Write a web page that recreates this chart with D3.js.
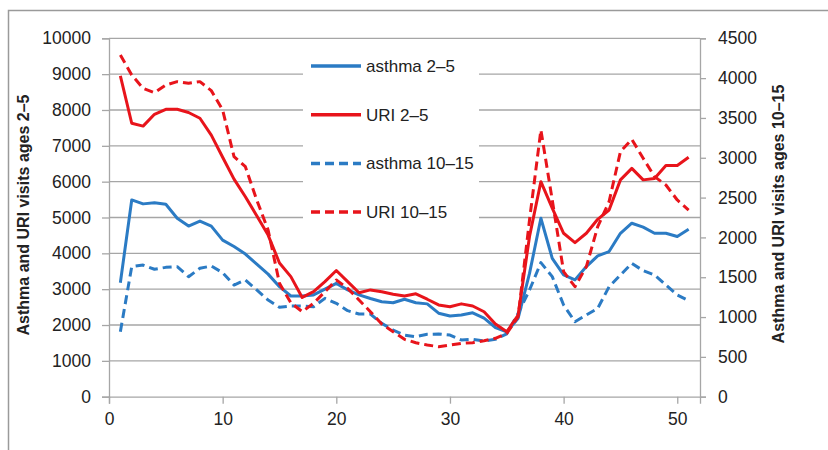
<!DOCTYPE html>
<html>
<head>
<meta charset="utf-8">
<script src="https://cdn.jsdelivr.net/npm/d3@7"></script>
<style>
  body { margin: 0; background: #fff; }
  text { font-family: "Liberation Sans", Arial, sans-serif; fill: #222; }
</style>
</head>
<body>
<div id="chart"></div>
<script>
let w = 828; let h = 450;

// weeks and series (left axis: ages 2–5, right axis: ages 10–15)
let weeks = d3.range(1, 52);
let asthma25 = [3180, 5490, 5380, 5410, 5370, 4980, 4760, 4900, 4760, 4370, 4190, 3980, 3700, 3420, 3070,
  2810, 2810, 2840, 3000, 3160, 2980, 2840, 2740, 2650, 2620, 2720, 2620, 2590, 2330, 2250,
  2280, 2340, 2190, 1930, 1810, 2190, 3440, 4980, 3860, 3400, 3260, 3630, 3930, 4050, 4560,
  4840, 4730, 4560, 4560, 4470, 4670];
let uri25 = [8950, 7630, 7550, 7880, 8020, 8020, 7930, 7770, 7300, 6680, 6070, 5580, 5050, 4510, 3730,
  3350, 2770, 2930, 3210, 3520, 3210, 2900, 2980, 2930, 2860, 2810, 2870, 2720, 2560, 2510,
  2590, 2530, 2370, 2030, 1810, 2280, 4470, 6000, 5260, 4560, 4300, 4560, 4950, 5210, 6050,
  6370, 6050, 6090, 6450, 6450, 6680];
let asthma1015 = [816, 1633, 1653, 1600, 1624, 1633, 1507, 1612, 1641, 1557, 1402, 1465, 1340, 1214, 1122,
  1139, 1139, 1130, 1235, 1172, 1080, 1038, 1038, 921, 837, 774, 753, 783, 787, 774,
  712, 720, 700, 720, 790, 1047, 1340, 1683, 1507, 1151, 942, 1026, 1109, 1381, 1528,
  1674, 1582, 1528, 1402, 1277, 1206];
let uri1015 = [4290, 4040, 3872, 3818, 3914, 3956, 3935, 3956, 3843, 3600, 3014, 2888, 2470, 2093, 1423,
  1180, 1067, 1172, 1319, 1465, 1360, 1214, 1067, 913, 816, 720, 678, 649, 628, 649,
  670, 678, 703, 733, 795, 1005, 2219, 3349, 2470, 1570, 1381, 1633, 2135, 2449, 3077,
  3232, 2993, 2763, 2658, 2470, 2344];

let xTicks = [0, 10, 20, 30, 40, 50];
let yLeftTicks = d3.range(0, 10001, 1000);
let yRightTicks = d3.range(0, 4501, 500);

let blue = "#2b7bc4";
let red = "#e8141b";
let grid = "#a6a6a6";

let svg = d3.select("#chart").append("svg")
  .attr("width", w).attr("height", h);

// outer frame
svg.append("path")
  .attr("d", "M8.5," + h + " V10.5 H" + w)
  .attr("fill", "none").attr("stroke", "#9a9a9a").attr("stroke-width", 1.5);

let pLeft = 109, pRight = 700, pTop = 38.3, pBottom = 396.7;

let x = d3.scaleLinear().domain([0, 52]).range([pLeft, pRight]);
let yL = d3.scaleLinear().domain([0, 10000]).range([pBottom, pTop]);
let yR = d3.scaleLinear().domain([0, 4500]).range([pBottom, pTop]);

// gridlines
svg.append("g").selectAll("line").data(yLeftTicks.slice(1)).enter().append("line")
  .attr("x1", pLeft).attr("x2", pRight)
  .attr("y1", d => yL(d)).attr("y2", d => yL(d))
  .attr("stroke", grid).attr("stroke-width", 1.3);

// axes
let axL = svg.append("g").attr("transform", "translate(" + pLeft + ",0)")
  .call(d3.axisLeft(yL).tickValues(yLeftTicks).tickSize(7).tickPadding(11).tickFormat(d3.format("d")));
let axR = svg.append("g").attr("transform", "translate(" + pRight + ",0)")
  .call(d3.axisRight(yR).tickValues(yRightTicks).tickSize(6).tickPadding(12).tickFormat(d3.format("d")));
let axB = svg.append("g").attr("transform", "translate(0," + pBottom + ")")
  .call(d3.axisBottom(x).tickValues(xTicks).tickSize(7).tickPadding(9).tickFormat(d3.format("d")));

[axL, axR, axB].forEach(a => {
  a.select(".domain").attr("stroke", grid).attr("stroke-width", 1.3);
  a.selectAll(".tick line").attr("stroke", grid).attr("stroke-width", 1.3);
  a.selectAll(".tick text").attr("font-size", "17.5px").attr("fill", "#222")
    .attr("font-family", "Liberation Sans, Arial, sans-serif");
});

// axis titles
svg.append("text")
  .attr("transform", "translate(29,215) rotate(-90)")
  .attr("text-anchor", "middle")
  .attr("font-size", "16px").attr("font-weight", "bold")
  .text("Asthma and URI visits ages 2–5");

svg.append("text")
  .attr("transform", "translate(784,214) rotate(-90)")
  .attr("text-anchor", "middle")
  .attr("font-size", "16px").attr("font-weight", "bold")
  .text("Asthma and URI visits ages 10–15");

let series = [
  { name: "asthma 2–5", values: asthma25, scale: yL, color: blue, dash: null },
  { name: "URI 2–5", values: uri25, scale: yL, color: red, dash: null },
  { name: "asthma 10–15", values: asthma1015, scale: yR, color: blue, dash: "9,5" },
  { name: "URI 10–15", values: uri1015, scale: yR, color: red, dash: "9,5" }
];

// legend background hides gridlines
svg.append("rect")
  .attr("x", 303).attr("y", 46).attr("width", 176).attr("height", 184)
  .attr("fill", "#fff");

let drawOrder = [series[2], series[0], series[3], series[1]];
drawOrder.forEach(s => {
  let line = d3.line().x((d, i) => x(weeks[i])).y(d => s.scale(d));
  svg.append("path")
    .datum(s.values)
    .attr("d", line)
    .attr("fill", "none")
    .attr("stroke", s.color)
    .attr("stroke-width", 3)
    .attr("stroke-linejoin", "round")
    .attr("stroke-dasharray", s.dash);
});

// legend
let leg = svg.append("g").selectAll("g").data(series).enter().append("g")
  .attr("transform", (d, i) => "translate(311," + (66 + i * 48.7) + ")");
leg.append("line")
  .attr("x1", 0).attr("x2", 50)
  .attr("stroke", d => d.color).attr("stroke-width", 3.5)
  .attr("stroke-dasharray", d => d.dash);
leg.append("text")
  .attr("x", 55).attr("dy", "0.35em")
  .attr("font-size", "17px")
  .text(d => d.name);
</script>
</body>
</html>
